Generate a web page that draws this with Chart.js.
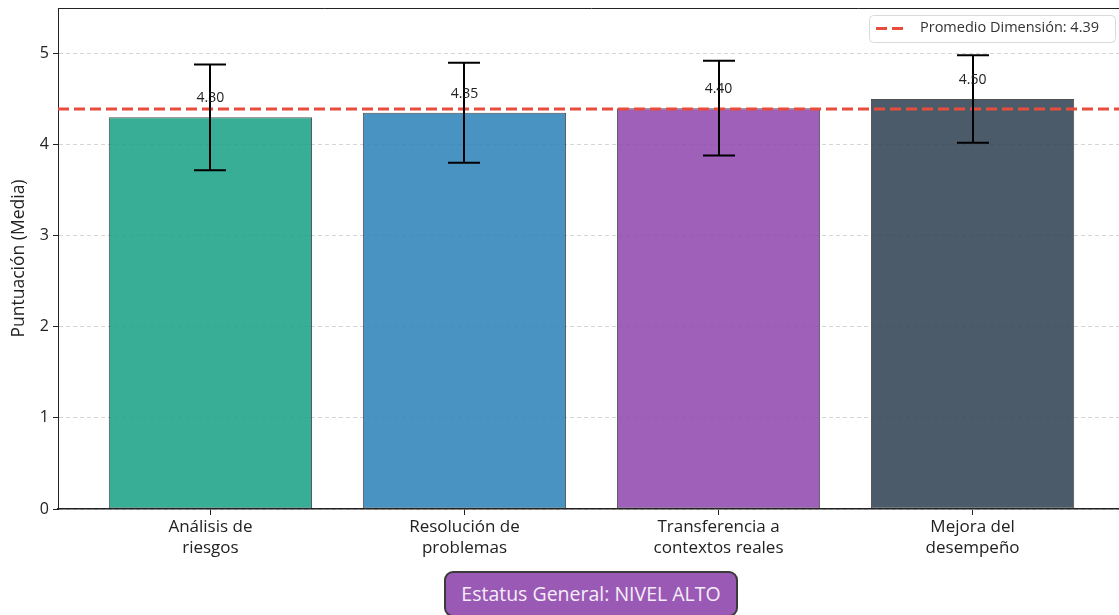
<!DOCTYPE html>
<html>
<head>
<meta charset="utf-8">
<script src="https://cdn.jsdelivr.net/npm/chart.js@4"></script>
<style>
  html, body { margin: 0; padding: 0; background: #fff; overflow: hidden; width: 1119px; height: 615px; }
  #wrap { position: absolute; left: 0; top: 0; width: 1130px; height: 560px; }
  #status {
    position: absolute; left: 444px; top: 571px; width: 294px; height: 46px;
    background: #9b59b6; border: 2px solid #3a3a3a; border-radius: 9px;
    color: #f4eef8; font-family: "Open Sans", sans-serif; font-size: 19.5px;
    line-height: 41px; text-align: center; box-sizing: border-box; white-space: nowrap;
  }
</style>
</head>
<body>
<div id="wrap"><canvas id="chart" width="1130" height="560"></canvas></div>
<div id="status">Estatus General: NIVEL ALTO</div>
<script>
const categories = [['Análisis de', 'riesgos'], ['Resolución de', 'problemas'], ['Transferencia a', 'contextos reales'], ['Mejora del', 'desempeño']];
const means = [4.30, 4.35, 4.40, 4.50];
const errors = [0.58, 0.55, 0.52, 0.48];
const barColors = ['rgba(22,160,133,0.85)', 'rgba(41,128,185,0.85)', 'rgba(142,68,173,0.85)', 'rgba(44,62,80,0.85)'];
const yTicks = [0, 1, 2, 3, 4, 5];
const average = 4.39;
const averageLabel = 'Promedio Dimensión: 4.39';

const FONT = '"Open Sans", sans-serif';

const overlay = {
    id: 'overlay',
    afterDatasetsDraw(chart) {
        const ctx = chart.ctx;
        const x = chart.scales.x, y = chart.scales.y;
        ctx.save();
        // error bars
        ctx.strokeStyle = '#000';
        ctx.lineWidth = 2;
        means.forEach((m, i) => {
            const px = Math.round(x.getPixelForValue(i));
            const top = y.getPixelForValue(m + errors[i]);
            const bot = y.getPixelForValue(m - errors[i]);
            ctx.beginPath();
            ctx.moveTo(px, top); ctx.lineTo(px, bot);
            ctx.moveTo(px - 16, top); ctx.lineTo(px + 16, top);
            ctx.moveTo(px - 16, bot); ctx.lineTo(px + 16, bot);
            ctx.stroke();
        });
        // value labels
        ctx.fillStyle = '#222';
        ctx.font = '14px ' + FONT;
        ctx.textAlign = 'center';
        ctx.textBaseline = 'middle';
        means.forEach((m, i) => {
            ctx.fillText(m.toFixed(2), x.getPixelForValue(i), y.getPixelForValue(m) - 19);
        });
        ctx.restore();
    },
    afterDraw(chart) {
        const ctx = chart.ctx;
        const a = chart.chartArea;
        ctx.save();
        // frame top / right
        ctx.strokeStyle = '#222';
        ctx.lineWidth = 1;
        ctx.beginPath();
        ctx.moveTo(a.left, a.top + 0.5); ctx.lineTo(a.right, a.top + 0.5);
        ctx.moveTo(a.right - 0.5, a.top); ctx.lineTo(a.right - 0.5, a.bottom);
        ctx.stroke();
        // legend
        ctx.fillStyle = 'rgba(255,255,255,0.85)';
        ctx.strokeStyle = '#d9d9d9';
        ctx.beginPath();
        ctx.roundRect(869.5, 15.5, 246, 27, 4);
        ctx.fill(); ctx.stroke();
        ctx.strokeStyle = '#e74c3c';
        ctx.lineWidth = 3;
        ctx.setLineDash([11, 5]);
        ctx.beginPath();
        ctx.moveTo(876, 28.5); ctx.lineTo(908, 28.5);
        ctx.stroke();
        ctx.setLineDash([]);
        ctx.fillStyle = '#333';
        ctx.font = '14.5px ' + FONT;
        ctx.textAlign = 'left';
        ctx.textBaseline = 'middle';
        ctx.fillText(averageLabel, 920, 28);
        ctx.restore();
    }
};

new Chart(document.getElementById('chart').getContext('2d'), {
    type: 'bar',
    data: {
        datasets: [{
            type: 'line',
            label: averageLabel,
            data: [{ x: -0.6, y: average }, { x: 3.6, y: average }],
            borderColor: '#e74c3c',
            borderWidth: 3,
            borderDash: [11, 5],
            pointRadius: 0,
            order: 0
        }, {
            label: 'Media',
            data: means.map((v, i) => ({ x: i, y: v })),
            backgroundColor: barColors,
            borderColor: 'rgba(50,50,50,0.85)',
            borderWidth: 1,
            borderSkipped: false,
            categoryPercentage: 1,
            barPercentage: 0.8,
            order: 1
        }]
    },
    options: {
        responsive: false,
        animation: false,
        devicePixelRatio: 1,
        layout: { padding: { top: 8, left: 0, right: 5, bottom: 0 } },
        plugins: { legend: { display: false }, tooltip: { enabled: false } },
        scales: {
            x: {
                type: 'linear',
                min: -0.6,
                max: 3.6,
                offset: false,
                afterBuildTicks: s => { s.ticks = categories.map((c, i) => ({ value: i })); },
                afterFit: s => { s.height = 51; s.paddingLeft = 0; s.paddingRight = 0; },
                ticks: {
                    callback: v => categories[v],
                    color: '#222',
                    font: { family: FONT, size: 17, lineHeight: 1.24 },
                    padding: 2,
                    maxRotation: 0,
                    autoSkip: false
                },
                grid: { drawOnChartArea: false, offset: false, tickLength: 6, tickColor: '#222', tickWidth: 1 },
                border: { color: '#222', width: 1.5 }
            },
            y: {
                min: 0,
                max: 5.5,
                afterBuildTicks: s => { s.ticks = yTicks.map(v => ({ value: v })); },
                afterFit: s => { s.width = 58; s.paddingTop = 0; s.paddingBottom = 0; },
                ticks: {
                    color: '#222',
                    font: { family: FONT, size: 16 },
                    padding: 4
                },
                grid: { color: '#d6d6d6', tickLength: 5, tickColor: '#222', tickBorderDash: [] },
                border: { color: '#222', width: 1, dash: [4, 3] },
                title: {
                    display: true,
                    text: 'Puntuación (Media)',
                    color: '#222',
                    font: { family: FONT, size: 17.5 },
                    padding: { top: 9, bottom: 0 }
                }
            }
        }
    },
    plugins: [overlay]
});
</script>
</body>
</html>
